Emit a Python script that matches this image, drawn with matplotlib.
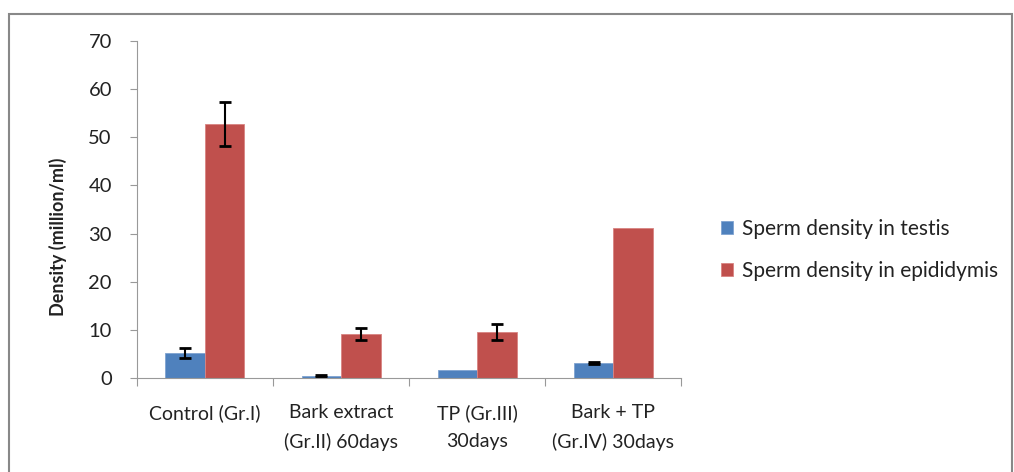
import matplotlib.pyplot as plt
import numpy as np
from matplotlib.patches import Rectangle

groups = ['Control (Gr.I)', 'Bark extract\n(Gr.II) 60days', 'TP (Gr.III)\n30days', 'Bark + TP\n(Gr.IV) 30days']
testis = [5.2, 0.4, 1.7, 3.05]
testis_err = [1.1, 0.2, 0.0, 0.2]
epid = [52.8, 9.1, 9.55, 31.2]
epid_err = [4.5, 1.25, 1.7, 0.0]

plt.rcParams['font.family'] = ['Lato', 'DejaVu Sans']

fig = plt.figure(figsize=(10.14, 4.72), dpi=100)
ax = fig.add_axes([0.135, 0.199, 0.537, 0.714])

x = np.arange(len(groups))
w = 0.29
ax.bar(x - w / 2, testis, w, color='#4F81BD', edgecolor='#7FA3D0', linewidth=0.6,
       label='Sperm density in testis')
ax.bar(x + w / 2, epid, w, color='#C0504D', edgecolor='#D88482', linewidth=0.6,
       label='Sperm density in epididymis')
# error bars (only where drawn in the original)
for xi, v, e in zip(x - w / 2, testis, testis_err):
    if e > 0:
        ax.errorbar(xi, v, yerr=e, color='black', capsize=4, capthick=2, elinewidth=1.5)
for xi, v, e in zip(x + w / 2, epid, epid_err):
    if e > 0:
        ax.errorbar(xi, v, yerr=e, color='black', capsize=4, capthick=2, elinewidth=1.5)

ax.set_xlim(-0.5, len(groups) - 0.5)
ax.set_ylim(0, 70)
ax.set_yticks(range(0, 71, 10))
ax.set_xticks(np.arange(-0.5, len(groups)), minor=False)
ax.set_xticklabels([])
ax.set_xticks(x, minor=True)
ax.set_xticklabels(groups, minor=True, fontsize=14, linespacing=1.75, color='#222222')
ax.tick_params(axis='x', which='minor', length=0, pad=19)
ax.tick_params(axis='x', which='major', length=6, color='#999999', direction='out')
ax.tick_params(axis='y', length=5, color='#999999', labelsize=14.5, pad=13,
               labelcolor='#222222')
for s in ['top', 'right']:
    ax.spines[s].set_visible(False)
for s in ['left', 'bottom']:
    ax.spines[s].set_color('#999999')
ax.set_ylabel('Density (million/ml)', fontsize=13, fontweight='bold', color='#222222')
ax.yaxis.set_label_coords(-0.129, 0.42)

ax.legend(loc='center left', bbox_to_anchor=(0.711, 0.47), bbox_transform=fig.transFigure,
          frameon=False, fontsize=15, handlelength=0.6, handleheight=0.6,
          handletextpad=0.4, labelspacing=1.05, borderpad=0, borderaxespad=0,
          labelcolor='#222222')

fig.patches.append(Rectangle((9 / 1014, -0.05), 1003 / 1014, 1.05 - 14 / 472,
                             transform=fig.transFigure, fill=False,
                             edgecolor='#888888', linewidth=1.5))

fig.savefig('out.png', dpi=100)
